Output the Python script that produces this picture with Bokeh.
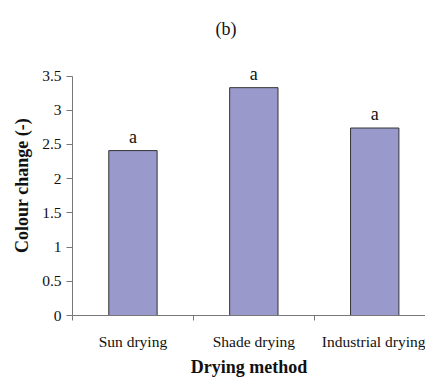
from bokeh.plotting import figure
from bokeh.models import Range1d, FixedTicker, ColumnDataSource
from bokeh.core.properties import value
from bokeh.embed import file_html
from bokeh.resources import INLINE

categories = ["Sun drying", "Shade drying", "Industrial drying"]
colour_change = [2.41, 3.33, 2.74]
letters = ["a", "a", "a"]
y_ticks = [0, 0.5, 1, 1.5, 2, 2.5, 3, 3.5]
y_tick_labels = ["0", "0.5", "1", "1.5", "2", "2.5", "3", "3.5"]

FONT = "Liberation Serif"
centers = [i + 0.5 for i in range(len(categories))]

p = figure(width=425, height=379, output_backend="svg", toolbar_location=None,
           x_range=Range1d(0, 2.92), y_range=Range1d(0, 3.8),
           min_border_left=72, min_border_right=0, min_border_top=54, min_border_bottom=63,
           title="(b)")
p.outline_line_color = None
p.xgrid.visible = False
p.ygrid.visible = False

p.title.text_font = FONT
p.title.text_font_size = "18px"
p.title.text_font_style = "normal"
p.title.text_color = "#111111"
p.title.align = "left"
p.title.offset = 143
p.title.standoff = 33

src = ColumnDataSource(dict(x=centers, top=colour_change, lab=letters, cat=categories))
p.vbar(x="x", top="top", width=0.4, source=src, fill_color="#9999CC",
       line_color="#333333", line_width=1)
p.text(x="x", y="top", text="lab", source=src, text_align="center",
       text_baseline="alphabetic", y_offset=-14, text_font=value(FONT),
       text_font_size="18px", text_color="#111111")

# y axis
ya = p.yaxis[0]
ya.ticker = FixedTicker(ticks=y_ticks)
ya.bounds = (0, 3.5)
ya.major_label_overrides = {t: l for t, l in zip(y_ticks, y_tick_labels)}
ya.minor_tick_line_color = None
ya.major_tick_out = 6
ya.major_tick_in = 0
ya.major_label_standoff = 5
ya.major_label_text_font = FONT
ya.major_label_text_font_size = "15.5px"
ya.major_label_text_color = "#111111"
ya.axis_line_color = "#777777"
ya.major_tick_line_color = "#777777"
ya.axis_label = "Colour change (-)"
ya.axis_label_text_font = FONT
ya.axis_label_text_font_size = "18px"
ya.axis_label_text_font_style = "bold"
ya.axis_label_text_color = "#111111"
ya.axis_label_standoff = 7

# x axis
xa = p.xaxis[0]
xa.ticker = FixedTicker(ticks=centers, minor_ticks=[0, 1, 2, 3])
xa.major_label_overrides = {c: n for c, n in zip(centers, categories)}
xa.major_tick_out = 0
xa.major_tick_in = 0
xa.minor_tick_out = 5
xa.minor_tick_in = 0
xa.minor_tick_line_color = "#777777"
xa.axis_line_color = "#777777"
xa.major_label_standoff = 12
xa.major_label_text_font = FONT
xa.major_label_text_font_size = "15.5px"
xa.major_label_text_color = "#111111"
xa.axis_label = "Drying method"
xa.axis_label_text_font = FONT
xa.axis_label_text_font_size = "18px"
xa.axis_label_text_font_style = "bold"
xa.axis_label_text_color = "#111111"
xa.axis_label_standoff = 4

open("out.html", "w").write(file_html(p, INLINE))
